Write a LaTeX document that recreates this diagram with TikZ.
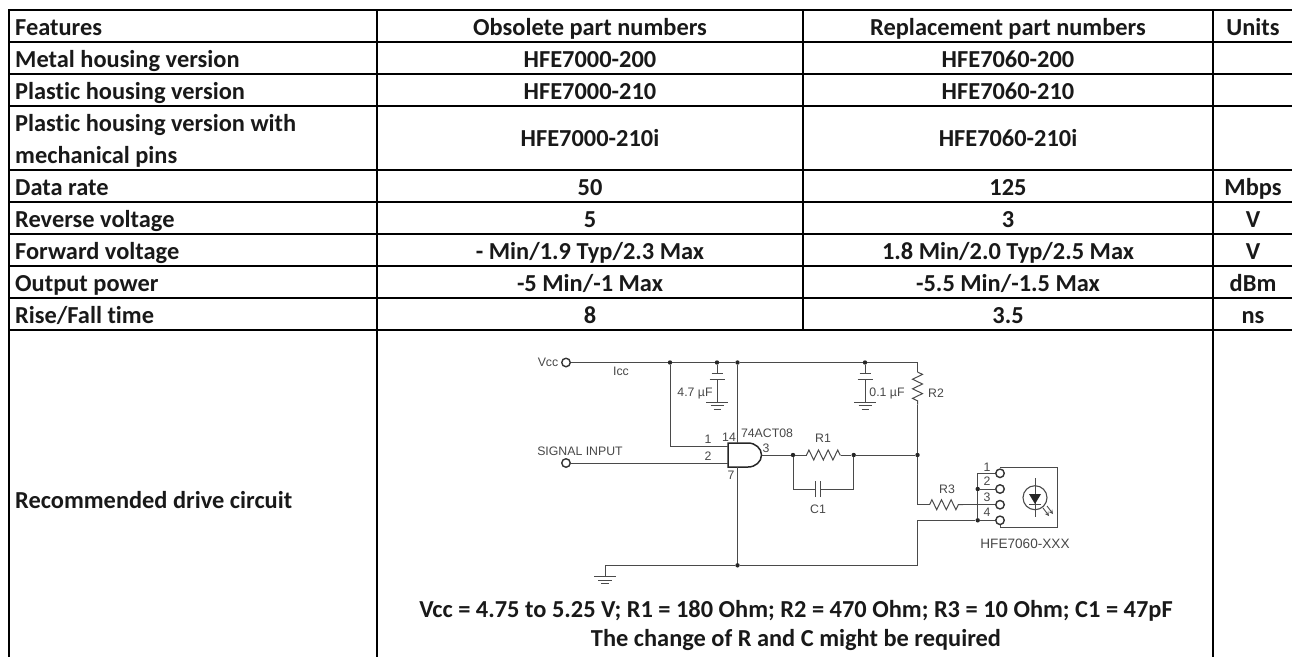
\documentclass[tikz,border=0pt]{standalone}
\usepackage{fontspec}
\setmainfont{Carlito}[Ligatures=CommonOff]
\newfontfamily\circuitfont{Liberation Sans}
\usetikzlibrary{positioning}
\usetikzlibrary{decorations.pathmorphing}
\definecolor{wiregray}{HTML}{4A4A4A}
\tikzstyle{gridline} = [line width=2pt,black]
\tikzstyle{feature} = [anchor=base west, inner sep=0pt, font=\fontsize{24.4}{32}\selectfont\bfseries, text=black!90]
\tikzstyle{cell} = [anchor=base, inner sep=0pt, font=\fontsize{24.4}{32}\selectfont\bfseries, text=black!90]
\tikzstyle{wire} = [line width=1pt, draw=wiregray]
\tikzstyle{dot} = [circle, fill=black!85, inner sep=0pt, minimum size=4.4pt]
\tikzstyle{pin} = [circle, draw=black!80, fill=white, line width=1.4pt, inner sep=0pt, minimum size=8.5pt]
\tikzstyle{tag} = [inner sep=0pt, text=black!72, font=\fontsize{12.3}{14}\selectfont\circuitfont]
\tikzstyle{resistor} = [wire, decorate, decoration={zigzag, segment length=9.6pt, amplitude=5pt}]
\begin{document}
\begin{tikzpicture}[x=1pt, y=-1pt]
        \useasboundingbox (0,0) rectangle (1292,657);

        % Table rules
        \draw[gridline] (8,10) -- (1292,10) (8,42) -- (1292,42) (8,74) -- (1292,74) (8,106) -- (1292,106)
            (8,170) -- (1292,170) (8,202) -- (1292,202) (8,234) -- (1292,234) (8,266) -- (1292,266)
            (8,298) -- (1292,298) (8,330) -- (1292,330);
        \draw[gridline] (9,9) -- (9,657) (377,9) -- (377,657) (1213,9) -- (1213,657) (803,9) -- (803,331);

        % Feature column
        \node[feature] (features) at (15,35) {Features};
        \node[feature] (metal) at (15,67) {Metal housing version};
        \node[feature] (plastic) at (15,99) {Plastic housing version};
        \node[feature] (mechA) at (15,131) {Plastic housing version with};
        \node[feature, below=32pt of mechA.base west, anchor=base west] (mechB) {mechanical pins};
        \node[feature] (rate) at (15,195) {Data rate};
        \node[feature] (reverse) at (15,227) {Reverse voltage};
        \node[feature] (forward) at (15,259) {Forward voltage};
        \node[feature] (power) at (15,291) {Output power};
        \node[feature] (rise) at (15,323) {Rise/Fall time};
        \node[feature] (drive) at (15,508) {Recommended drive circuit};

        % Obsolete column
        \node[cell] (oldhead) at (590,35) {Obsolete part numbers};
        \node[cell] (oldmetal) at (590,67) {HFE7000-200};
        \node[cell] (oldplastic) at (590,99) {HFE7000-210};
        \node[cell] (oldmech) at (590,146) {HFE7000-210i};
        \node[cell] (oldrate) at (590,195) {50};
        \node[cell] (oldreverse) at (590,227) {5};
        \node[cell] (oldforward) at (590,259) {- Min/1.9 Typ/2.3 Max};
        \node[cell] (oldpower) at (590,291) {-5 Min/-1 Max};
        \node[cell] (oldrise) at (590,323) {8};

        % Replacement column
        \node[cell] (newhead) at (1008,35) {Replacement part numbers};
        \node[cell] (newmetal) at (1008,67) {HFE7060-200};
        \node[cell] (newplastic) at (1008,99) {HFE7060-210};
        \node[cell] (newmech) at (1008,146) {HFE7060-210i};
        \node[cell] (newrate) at (1008,195) {125};
        \node[cell] (newreverse) at (1008,227) {3};
        \node[cell] (newforward) at (1008,259) {1.8 Min/2.0 Typ/2.5 Max};
        \node[cell] (newpower) at (1008,291) {-5.5 Min/-1.5 Max};
        \node[cell] (newrise) at (1008,323) {3.5};

        % Units column
        \node[cell] (units) at (1253,35) {Units};
        \node[cell] (mbps) at (1253,195) {Mbps};
        \node[cell] (voltr) at (1253,227) {V};
        \node[cell] (voltf) at (1253,259) {V};
        \node[cell] (dbm) at (1253,291) {dBm};
        \node[cell] (nsec) at (1253,323) {ns};

        % Values under the circuit
        \node[cell] (values) at (796,617.5) {Vcc = 4.75 to 5.25 V; R1 = 180 Ohm; R2 = 470 Ohm; R3 = 10 Ohm; C1 = 47pF};
        \node[cell] (remark) at (796,646.5) {The change of R and C might be required};

        % Supply rail
        \node[pin] (vcc) at (566,362.5) {};
        \node[dot] (railA) at (670,362.5) {};
        \node[dot] (railB) at (717,362.5) {};
        \node[dot] (railC) at (737.5,362.5) {};
        \node[dot] (railD) at (865,362.5) {};
        \coordinate (railE) at (917.5,362.5);
        \draw[wire] (vcc) -- (railA) -- (railB) -- (railC) -- (railD) -- (railE);

        % AND gate
        \coordinate (gatetop) at (728,443);
        \coordinate (gatebot) at (728,467);
        \coordinate (gatein) at (728,446);
        \coordinate (gatesig) at (728,463);
        \coordinate (gatepwr) at (737.5,443);
        \coordinate (gategnd) at (737.5,467);
        \coordinate (gateout) at (761.5,455);
        \draw[line width=1.5pt, draw=black!85] (gatetop) -- (748,443) arc (-90:90:13.5 and 12) -- (gatebot) -- cycle;
        \node[pin] (signal) at (566,463) {};
        \draw[wire] (railA) |- (gatein);
        \draw[wire] (signal) -- (gatesig);
        \draw[wire] (railC) -- (gatepwr);

        % Output network
        \node[dot] (outA) at (793,455) {};
        \node[dot] (outB) at (853.7,455) {};
        \node[dot] (outC) at (917.5,455) {};
        \coordinate (r1a) at (806.5,455);
        \coordinate (r1b) at (840.5,455);
        \draw[wire] (gateout) -- (outA) -- (r1a);
        \draw[resistor] (r1a) -- (r1b);
        \draw[wire] (r1b) -- (outB) -- (outC);
        \coordinate (c1a) at (815,489);
        \coordinate (c1b) at (820.5,489);
        \draw[wire] (outA) |- (c1a);
        \draw[wire] (outB) |- (c1b);
        \draw[wire] ([yshift=-8pt]c1a) -- ([yshift=8pt]c1a);
        \draw[wire] ([yshift=-8pt]c1b) -- ([yshift=8pt]c1b);

        % Pull-up
        \coordinate (r2a) at (917.5,372);
        \coordinate (r2b) at (917.5,404.5);
        \draw[wire] (railE) -- (r2a);
        \draw[resistor] (r2a) -- (r2b);
        \draw[wire] (r2b) -- (outC);

        % Decoupling capacitors
        \coordinate (capAtop) at (717,373.3);
        \coordinate (capAbot) at (717,379.3);
        \coordinate (capAgnd) at (717,402.3);
        \draw[wire] (railB) -- (capAtop);
        \draw[wire] ([xshift=-5.5pt]capAtop) -- ([xshift=5.5pt]capAtop);
        \draw[wire] ([xshift=-7.5pt]capAbot) -- ([xshift=7.5pt]capAbot);
        \draw[wire] (capAbot) -- (capAgnd);
        \draw[wire] ([xshift=-11pt]capAgnd) -- ([xshift=11pt]capAgnd);
        \draw[wire] ([xshift=-6.5pt,yshift=-3.6pt]capAgnd) -- ([xshift=6.5pt,yshift=-3.6pt]capAgnd);
        \draw[wire] ([xshift=-3.5pt,yshift=-7pt]capAgnd) -- ([xshift=3.5pt,yshift=-7pt]capAgnd);
        \coordinate (capBtop) at (865,373.3);
        \coordinate (capBbot) at (865,379.3);
        \coordinate (capBgnd) at (865,402.3);
        \draw[wire] (railD) -- (capBtop);
        \draw[wire] ([xshift=-5.5pt]capBtop) -- ([xshift=5.5pt]capBtop);
        \draw[wire] ([xshift=-7.5pt]capBbot) -- ([xshift=7.5pt]capBbot);
        \draw[wire] (capBbot) -- (capBgnd);
        \draw[wire] ([xshift=-11pt]capBgnd) -- ([xshift=11pt]capBgnd);
        \draw[wire] ([xshift=-6.5pt,yshift=-3.6pt]capBgnd) -- ([xshift=6.5pt,yshift=-3.6pt]capBgnd);
        \draw[wire] ([xshift=-3.5pt,yshift=-7pt]capBgnd) -- ([xshift=3.5pt,yshift=-7pt]capBgnd);

        % Transmitter package
        \coordinate (boxtop) at (1000,467);
        \coordinate (boxbot) at (1000,527.7);
        \draw[wire] (boxtop) -- (1057,467) -- (1057,527.7) -- (boxbot);
        \node[pin] (pinA) at (1000,473.3) {};
        \node[pin] (pinB) at (1000,489) {};
        \node[pin] (pinC) at (1000,504.7) {};
        \node[pin] (pinD) at (1000,520.3) {};
        \draw[wire] (boxtop) -- (pinA);
        \draw[wire] (pinD) -- (boxbot);
        \node[dot] (tieB) at (977.7,489) {};
        \node[dot] (tieD) at (977.7,520.3) {};
        \draw[wire] (pinA) -| (tieB) -- (tieD);
        \draw[wire] (tieB) -- (pinB);
        \draw[wire] (tieD) -- (pinD);

        % Series resistor
        \coordinate (r3a) at (929.5,504.7);
        \coordinate (r3b) at (963,504.7);
        \draw[wire] (outC) |- (r3a);
        \draw[resistor] (r3a) -- (r3b);
        \draw[wire] (r3b) -- (pinC);

        % Ground return
        \node[dot] (gndA) at (737.5,565.3) {};
        \coordinate (gndB) at (917.5,565.3);
        \coordinate (gndC) at (917.5,520.3);
        \coordinate (earth) at (605,576.7);
        \draw[wire] (gategnd) -- (gndA);
        \draw[wire] (tieD) -- (gndC) -- (gndB) -- (gndA) -| (earth);
        \draw[wire] ([xshift=-11pt]earth) -- ([xshift=11pt]earth);
        \draw[wire] ([xshift=-7pt,yshift=-3.6pt]earth) -- ([xshift=7pt,yshift=-3.6pt]earth);
        \draw[wire] ([xshift=-4pt,yshift=-7pt]earth) -- ([xshift=4pt,yshift=-7pt]earth);

        % LED symbol
        \node[circle, draw=wiregray, line width=1.1pt, inner sep=0pt, minimum size=24pt] (led) at (1035,497.7) {};
        \coordinate (ledtop) at (1035,478);
        \coordinate (ledbot) at (1035,516.7);
        \draw[wire] (ledtop) -- (ledbot);
        \fill[black!85] (1029,494) -- (1041,494) -- (1035,504) -- cycle;
        \draw[wire] (1029,504) -- (1041,504);
        \draw[line width=0.9pt, draw=wiregray, ->, >=stealth] (1043,508) -- (1049,516);
        \draw[line width=0.9pt, draw=wiregray, ->, >=stealth] (1047,506) -- (1053,514);

        % Circuit labels
        \node[tag] (vcclabel) at (548,362.5) {Vcc};
        \node[tag] (icc) at (621,371) {Icc};
        \node[tag] (siglabel) at (580,451) {SIGNAL INPUT};
        \node[tag] (capAlabel) at (695,393.5) {4.7 µF};
        \node[tag] (capBlabel) at (887,393.5) {0.1 µF};
        \node[tag] (r2label) at (936,393) {R2};
        \node[tag] (r1label) at (823,438.5) {R1};
        \node[tag] (c1label) at (818,509) {C1};
        \node[tag] (r3label) at (947,489) {R3};
        \node[tag] (gatelabel) at (767,433) {74ACT08};
        \node[tag] (in1) at (708,439) {1};
        \node[tag] (in2) at (708,456) {2};
        \node[tag] (out3) at (766,448) {3};
        \node[tag] (pwr14) at (729,437) {14};
        \node[tag] (gnd7) at (731,475) {7};
        \node[tag] (num1) at (987,467) {1};
        \node[tag] (num2) at (987,481.5) {2};
        \node[tag] (num3) at (987,497) {3};
        \node[tag] (num4) at (987,512.5) {4};
        \node[tag, font=\fontsize{13.6}{16}\selectfont\circuitfont] (partlabel) at (1025,544) {HFE7060-XXX};

\end{tikzpicture}
\end{document}
